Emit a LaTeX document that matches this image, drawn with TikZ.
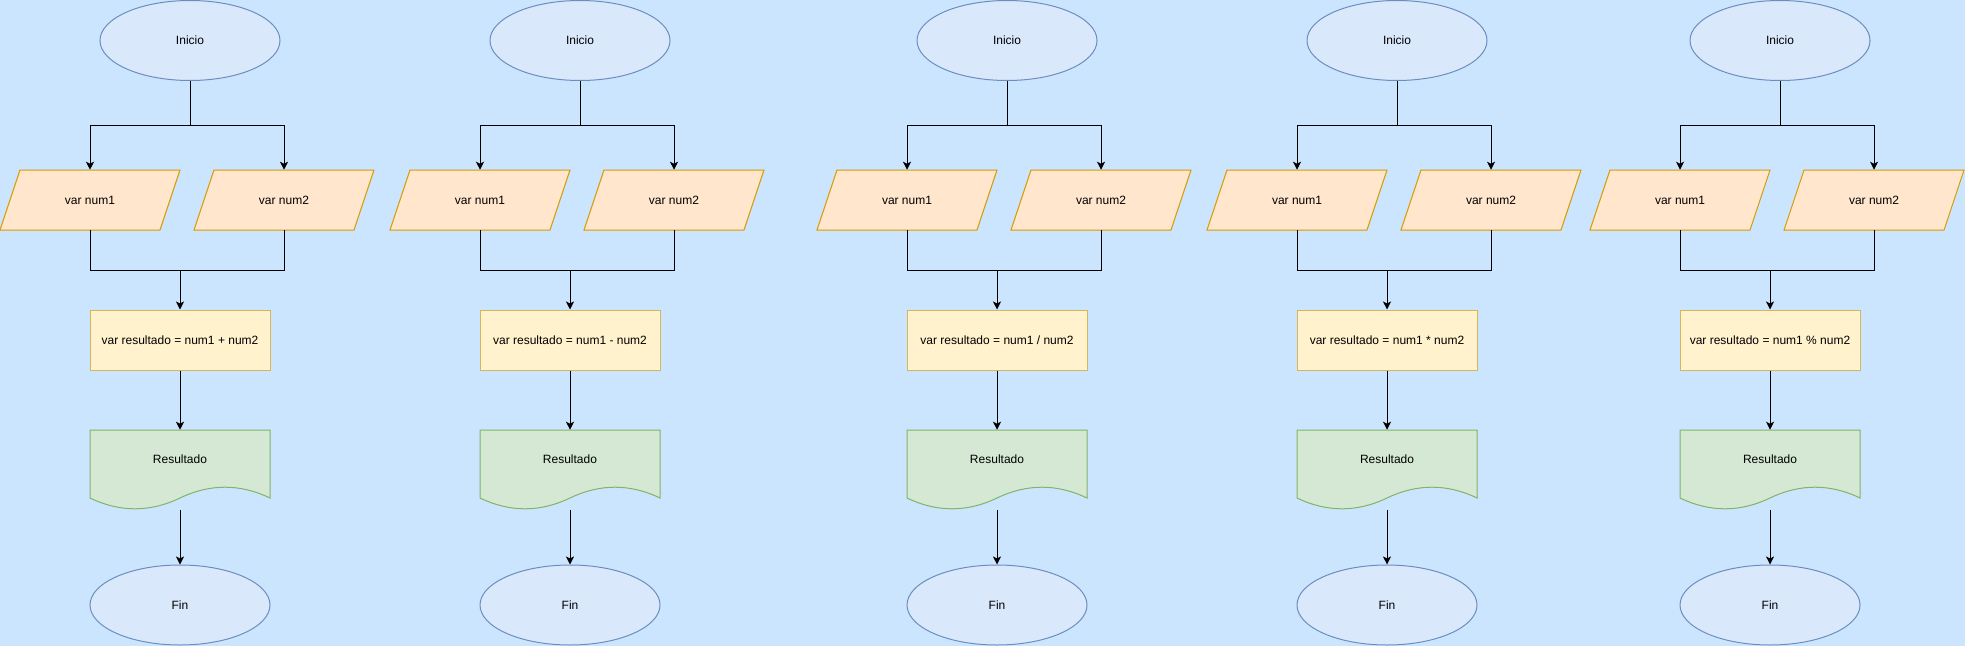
\documentclass[tikz,border=0pt]{standalone}
\usepackage{fontspec}
\setmainfont{Liberation Sans}
\usetikzlibrary{shapes.geometric,arrows.meta}
\definecolor{bgc}{HTML}{CCE5FF}
\definecolor{termfill}{HTML}{DAE8FC}
\definecolor{termline}{HTML}{6C8EBF}
\definecolor{infill}{HTML}{FFE6CC}
\definecolor{inline}{HTML}{D79B00}
\definecolor{procfill}{HTML}{FFF2CC}
\definecolor{procline}{HTML}{D6B656}
\definecolor{docfill}{HTML}{D5E8D4}
\definecolor{docline}{HTML}{82B366}
\tikzset{
  x=0.75pt, y=-0.75pt,
  every node/.style={font=\fontsize{9pt}{11pt}\selectfont, text=black},
  term/.style={ellipse, draw=termline, fill=termfill, line width=0.75pt, minimum width=135pt, minimum height=60pt, inner sep=0pt},
  inshape/.style={draw=inline, fill=infill, line width=0.75pt},
  holder/.style={rectangle, inner sep=0pt, minimum width=135pt, minimum height=45pt},
  proc/.style={rectangle, draw=procline, fill=procfill, line width=0.75pt, minimum width=135pt, minimum height=45pt, inner sep=0pt},
  docshape/.style={draw=docline, fill=docfill, line width=0.75pt},
  docholder/.style={rectangle, inner sep=0pt, minimum width=135pt, minimum height=60pt},
  arr/.style={draw=black, line width=0.75pt, -{Stealth[length=6pt,width=6pt,inset=1.5pt]}},
  conn/.style={draw=black, line width=0.75pt}
}
\newcommand\flowcol[3]{%
\begin{scope}[xshift=#1*0.75pt]
  \node[term] (#2i) at (190,40.5) {Inicio};
  \path[inshape] (0,230) -- (20,170) -- (180,170) -- (160,230) -- cycle;
  \node[holder] (#2a) at (90,200) {var num1};
  \path[inshape] (194,230) -- (214,170) -- (374,170) -- (354,230) -- cycle;
  \node[holder] (#2b) at (284,200) {var num2};
  \node[proc] (#2p) at (180,340) {var resultado = num1 #3 num2};
  \path[docshape] (90,430) -- (270,430) -- (270,498)
     .. controls (240,483.6) and (210,483.6) .. (180,498)
     .. controls (150,512.4) and (120,512.4) .. (90,498) -- cycle;
  \node[docholder, label={[yshift=8.25pt]center:Resultado}] (#2d) at (180,470) {};
  \node[term] (#2f) at (180,605) {Fin};
  \coordinate (#2s) at (190,125);
  \coordinate (#2j) at (180,270);
  \draw[conn] (#2i.south) -- (#2s);
  \draw[arr] (#2s) -| (#2a.north);
  \draw[arr] (#2s) -| (#2b.north);
  \draw[conn] (#2a.south) |- (#2j);
  \draw[conn] (#2b.south) |- (#2j);
  \draw[arr] (#2j) -- (#2p.north);
  \draw[arr] (#2p.south) -- (#2d.north);
  \draw[arr] (#2d.south) -- (#2f.north);
\end{scope}}
\begin{document}
\begin{tikzpicture}
  \fill[bgc] (0,0) rectangle (1965,646);
  \useasboundingbox (0,0) rectangle (1965,646);
  \flowcol{0}{a}{+}
  \flowcol{390}{b}{-}
  \flowcol{817}{c}{/}
  \flowcol{1207}{d}{*}
  \flowcol{1590}{e}{\%}
\end{tikzpicture}
\end{document}
